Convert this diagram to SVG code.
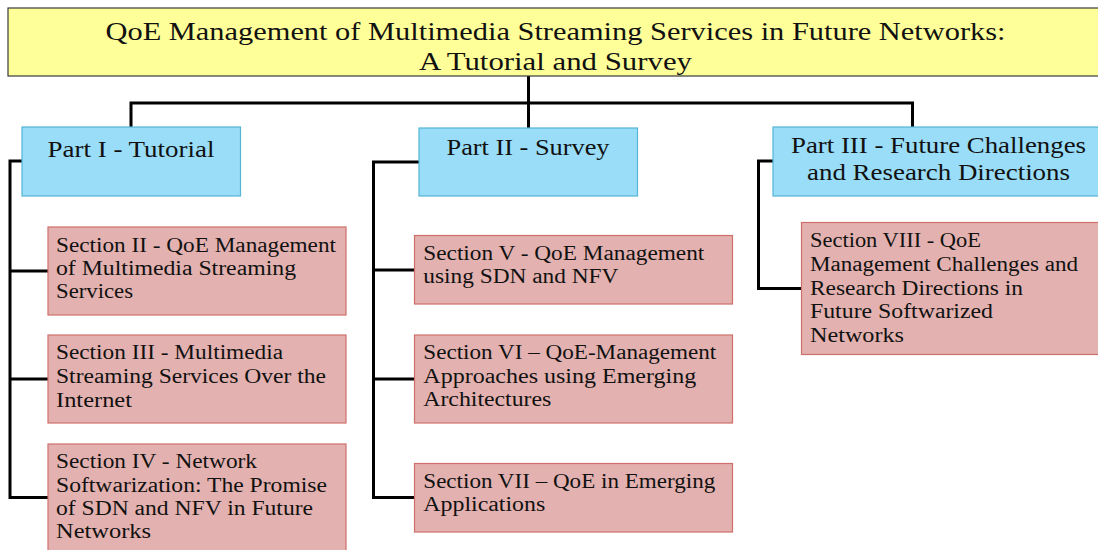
<svg xmlns="http://www.w3.org/2000/svg" width="1098" height="550" viewBox="0 0 1098 550">
<style>
  .title { fill: #ffff99; stroke: #3a3a3a; stroke-width: 1.2; }
  .part { fill: #99ddf8; stroke: #56b4d6; stroke-width: 1.2; }
  .sec { fill: #e3b1af; stroke: #cf6f6c; stroke-width: 1.2; }
  .conn { fill: none; stroke: #000; stroke-width: 3; stroke-linejoin: miter; stroke-linecap: butt; }
  text { font-family: "Liberation Serif", "Times New Roman", serif; fill: #111; }
  .tt { font-size: 25px; text-anchor: middle; }
  .pt { font-size: 24px; text-anchor: middle; }
  .st { font-size: 20px; }
</style>
<rect x="0" y="0" width="1098" height="550" fill="#ffffff"/>
<g id="connectors">
  <path class="conn" d="M528.5,76 V128"/>
  <path class="conn" d="M131,127 V103 H912.5 V127"/>
  <path class="conn" d="M22,161 H10 V497.5 M8.5,271 H48 M8.5,379 H48 M8.5,497.5 H48"/>
  <path class="conn" d="M419,162 H373.5 V497.5 M372,270 H415 M372,379 H415 M372,497.5 H415"/>
  <path class="conn" d="M773,161 H758.5 V288.5 H802"/>
</g>
<g id="title">
  <rect class="title" x="8" y="8" width="1096" height="68"/>
  <text class="tt" x="555.5" y="39.5" textLength="900" lengthAdjust="spacingAndGlyphs">QoE Management of Multimedia Streaming Services in Future Networks:</text>
  <text class="tt" x="555.5" y="69.5" textLength="273" lengthAdjust="spacingAndGlyphs">A Tutorial and Survey</text>
</g>
<g id="part1">
  <rect class="part" x="22" y="127" width="218.5" height="69"/>
  <text class="pt" x="131" y="156.5" textLength="167" lengthAdjust="spacingAndGlyphs">Part I - Tutorial</text>
</g>
<g id="part2">
  <rect class="part" x="419" y="128" width="218.5" height="68"/>
  <text class="pt" x="528" y="155" textLength="163" lengthAdjust="spacingAndGlyphs">Part II - Survey</text>
</g>
<g id="part3">
  <rect class="part" x="773" y="127" width="330" height="69"/>
  <text class="pt" x="938.5" y="153.3" textLength="295" lengthAdjust="spacingAndGlyphs">Part III - Future Challenges</text>
  <text class="pt" x="938.5" y="180" textLength="263" lengthAdjust="spacingAndGlyphs">and Research Directions</text>
</g>
<g id="sec2">
  <rect class="sec" x="48" y="227" width="298" height="88"/>
  <text class="st" x="56" y="251.7" textLength="280" lengthAdjust="spacingAndGlyphs">Section II - QoE Management</text>
  <text class="st" x="56" y="275" textLength="240" lengthAdjust="spacingAndGlyphs">of Multimedia Streaming</text>
  <text class="st" x="56" y="298.3" textLength="77" lengthAdjust="spacingAndGlyphs">Services</text>
</g>
<g id="sec3">
  <rect class="sec" x="48" y="335" width="298" height="88"/>
  <text class="st" x="56" y="359.3" textLength="227" lengthAdjust="spacingAndGlyphs">Section III - Multimedia</text>
  <text class="st" x="56" y="383.3" textLength="270" lengthAdjust="spacingAndGlyphs">Streaming Services Over the</text>
  <text class="st" x="56" y="406.7" textLength="76" lengthAdjust="spacingAndGlyphs">Internet</text>
</g>
<g id="sec4">
  <rect class="sec" x="48" y="444" width="298" height="120"/>
  <text class="st" x="56" y="468.3" textLength="201" lengthAdjust="spacingAndGlyphs">Section IV - Network</text>
  <text class="st" x="56" y="491.7" textLength="271" lengthAdjust="spacingAndGlyphs">Softwarization: The Promise</text>
  <text class="st" x="56" y="515" textLength="257" lengthAdjust="spacingAndGlyphs">of SDN and NFV in Future</text>
  <text class="st" x="56" y="538.3" textLength="95" lengthAdjust="spacingAndGlyphs">Networks</text>
</g>
<g id="sec5">
  <rect class="sec" x="414.5" y="235.5" width="318" height="68.5"/>
  <text class="st" x="423.3" y="260" textLength="281" lengthAdjust="spacingAndGlyphs">Section V - QoE Management</text>
  <text class="st" x="423.3" y="283.3" textLength="195" lengthAdjust="spacingAndGlyphs">using SDN and NFV</text>
</g>
<g id="sec6">
  <rect class="sec" x="414.5" y="335" width="318" height="88"/>
  <text class="st" x="423.3" y="359" textLength="293" lengthAdjust="spacingAndGlyphs">Section VI – QoE-Management</text>
  <text class="st" x="423.3" y="383.3" textLength="273" lengthAdjust="spacingAndGlyphs">Approaches using Emerging</text>
  <text class="st" x="423.3" y="406" textLength="128" lengthAdjust="spacingAndGlyphs">Architectures</text>
</g>
<g id="sec7">
  <rect class="sec" x="414.5" y="463.5" width="318" height="68.5"/>
  <text class="st" x="423.3" y="487.7" textLength="292" lengthAdjust="spacingAndGlyphs">Section VII – QoE in Emerging</text>
  <text class="st" x="423.3" y="511" textLength="122" lengthAdjust="spacingAndGlyphs">Applications</text>
</g>
<g id="sec8">
  <rect class="sec" x="801.5" y="222.5" width="310" height="132"/>
  <text class="st" x="810" y="246.7" textLength="171" lengthAdjust="spacingAndGlyphs">Section VIII - QoE</text>
  <text class="st" x="810" y="271" textLength="268" lengthAdjust="spacingAndGlyphs">Management Challenges and</text>
  <text class="st" x="810" y="295" textLength="213" lengthAdjust="spacingAndGlyphs">Research Directions in</text>
  <text class="st" x="810" y="318.3" textLength="183" lengthAdjust="spacingAndGlyphs">Future Softwarized</text>
  <text class="st" x="810" y="341.7" textLength="94" lengthAdjust="spacingAndGlyphs">Networks</text>
</g>
</svg>
